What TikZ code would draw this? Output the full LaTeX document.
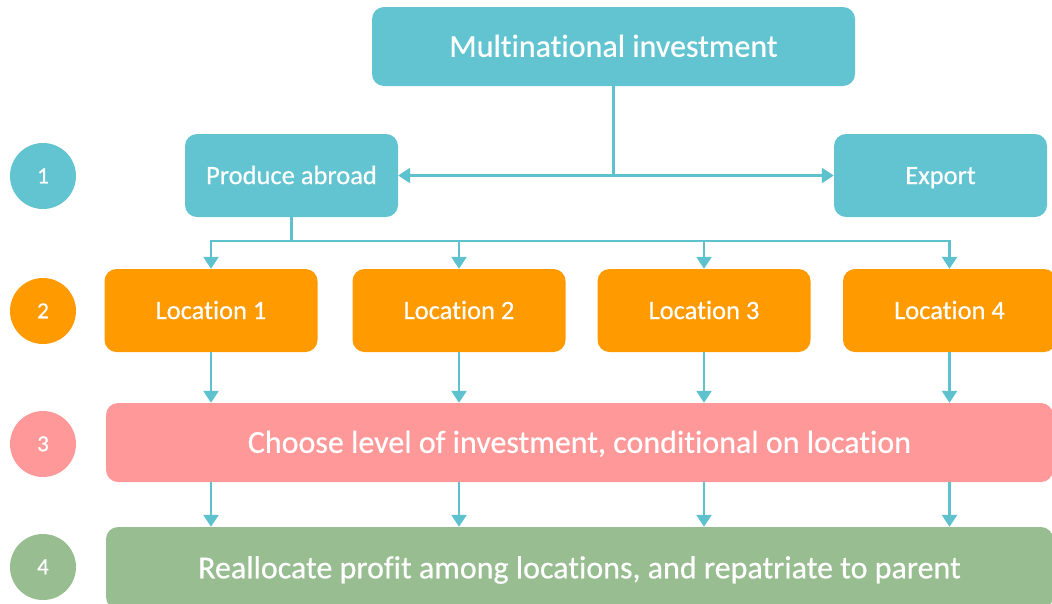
\documentclass[tikz,border=0pt]{standalone}
\usepackage{fontspec}
\setmainfont{Carlito}[Ligatures=NoCommon, UprightFeatures={FakeBold=0.5}]
\usetikzlibrary{arrows.meta}

\definecolor{tealbox}{HTML}{62C4D0}
\definecolor{orangebox}{HTML}{FF9A00}
\definecolor{pinkbox}{HTML}{FF9999}
\definecolor{greenbox}{HTML}{97BD91}
\definecolor{linkcol}{HTML}{5EC2CE}

\tikzset{
  box/.style={rectangle, rounded corners=12pt, draw=none, text=white,
    inner sep=0pt, text depth=0pt, align=center},
  stepnum/.style={circle, draw=none, minimum size=66pt, inner sep=0pt,
    text=white, font=\fontsize{23}{26}\selectfont, text height=14.5pt, text depth=0pt},
  link/.style={draw=linkcol, line width=2.6pt},
  arrowlink/.style={link, -{Triangle[length=12pt,width=15pt]}},
  bigfont/.style={font=\fontsize{32}{38}\selectfont, text height=20.6pt},
  midfont/.style={font=\fontsize{26.5}{32}\selectfont, text height=17.1pt},
}

\begin{document}
\begin{tikzpicture}[x=1pt,y=-1pt]
\useasboundingbox (0,0) rectangle (1052,603);

% level markers
\node[stepnum, fill=tealbox]   (n1) at (43,176) {1};
\node[stepnum, fill=orangebox] (n2) at (43,311) {2};
\node[stepnum, fill=pinkbox]   (n3) at (43,444) {3};
\node[stepnum, fill=greenbox]  (n4) at (43,567) {4};

% top decision
\node[box, bigfont, fill=tealbox, minimum width=483pt, minimum height=79pt]
  (multi) at (613.5,46.5) {Multinational investment};
\node[box, midfont, fill=tealbox, minimum width=213pt, minimum height=83pt]
  (abroad) at (291.5,175.5) {Produce abroad};
\node[box, midfont, fill=tealbox, minimum width=213pt, minimum height=83pt]
  (export) at (940.5,175.5) {Export};

% locations
\node[box, midfont, fill=orangebox, minimum width=213pt, minimum height=83pt]
  (l1) at (211,310.5) {Location 1};
\node[box, midfont, fill=orangebox, minimum width=213pt, minimum height=83pt]
  (l2) at (459,310.5) {Location 2};
\node[box, midfont, fill=orangebox, minimum width=213pt, minimum height=83pt]
  (l3) at (704,310.5) {Location 3};
\node[box, midfont, fill=orangebox, minimum width=213pt, minimum height=83pt]
  (l4) at (949.5,310.5) {Location 4};

% investment and profit stages
\node[box, bigfont, fill=pinkbox, minimum width=947pt, minimum height=79pt]
  (invest) at (579.5,442.5) {Choose level of investment, conditional on location};
\node[box, bigfont, fill=greenbox, minimum width=947pt, minimum height=82pt]
  (profit) at (579.5,568) {Reallocate profit among locations, and repatriate to parent};

% split between producing abroad and exporting
\coordinate (split) at (multi.south |- abroad.east);
\draw[link] (multi.south) -- (split);
\draw[arrowlink] (split) -- (abroad.east);
\draw[arrowlink] (split) -- (export.west);

% distribution bus to the locations
\coordinate (bus) at (abroad.south |- 0,241);
\draw[link] (abroad.south) -- (bus);
\draw[arrowlink] (bus) -| (l1.north);
\draw[arrowlink] (bus) -| (l2.north);
\draw[arrowlink] (bus) -| (l3.north);
\draw[arrowlink] (bus) -| (l4.north);

% locations feed the investment choice, which feeds profit allocation
\foreach \l in {l1,l2,l3,l4}{
  \draw[arrowlink] (\l.south) -- (\l.south |- invest.north);
  \draw[arrowlink] (\l.south |- invest.south) -- (\l.south |- profit.north);
}
\end{tikzpicture}
\end{document}
